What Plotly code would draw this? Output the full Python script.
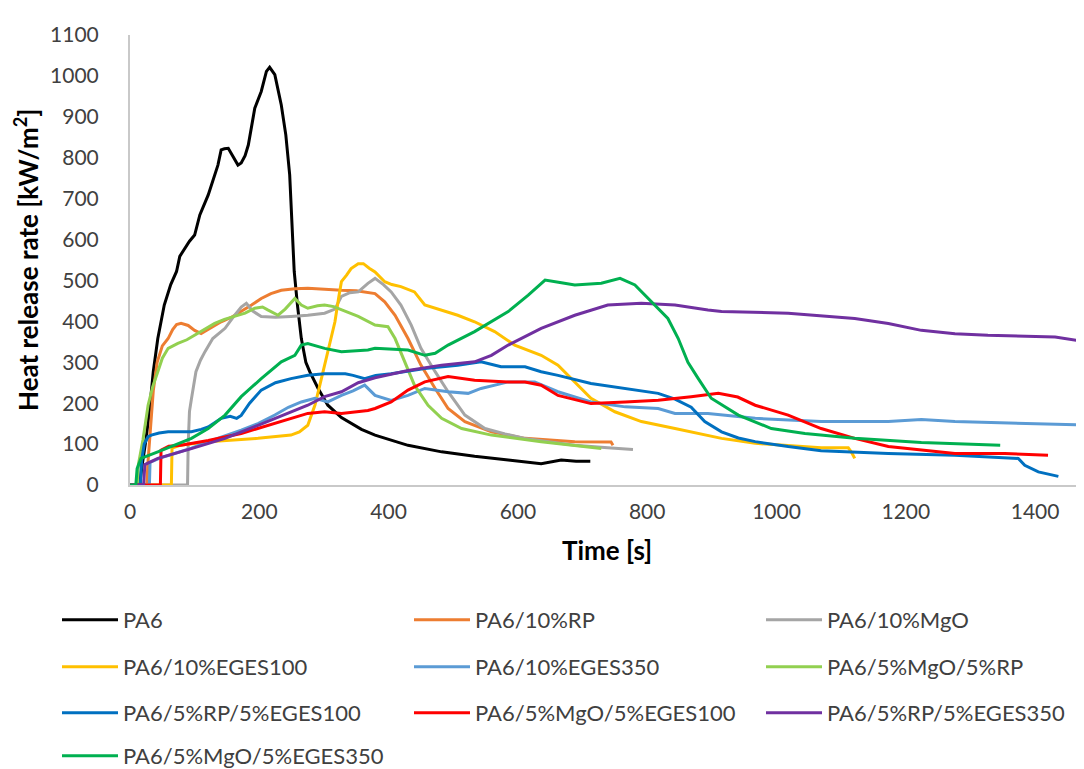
import plotly.graph_objects as go

# ---------------- data ----------------
names = ["PA6", "PA6/10%RP", "PA6/10%MgO", "PA6/10%EGES100", "PA6/10%EGES350",
         "PA6/5%MgO/5%RP", "PA6/5%RP/5%EGES100", "PA6/5%MgO/5%EGES100",
         "PA6/5%RP/5%EGES350", "PA6/5%MgO/5%EGES350"]
colors = ["#000000", "#ED7D31", "#A5A5A5", "#FFC000", "#5B9BD5",
          "#92D050", "#0070C0", "#FF0000", "#7030A0", "#00B050"]

t_pa6 = [0, 15, 18, 22, 25, 31, 36, 43, 53, 63, 72, 77, 92, 100, 108, 121, 136, 141, 146, 152, 160, 167, 172, 178,
         183, 193, 203, 211, 216, 224, 234, 241, 247, 250, 252, 254, 259, 265, 272, 278, 291, 306, 327, 337, 358, 379,
         430, 482, 533, 585, 636, 667, 690, 712]
q_pa6 = [0, 0, 40, 80, 114, 195, 277, 358, 440, 490, 522, 559, 596, 611, 660, 709, 782, 819, 822, 823, 800, 782, 787, 805,
         831, 921, 962, 1011, 1021, 1003, 929, 856, 758, 650, 559, 522, 440, 358, 300, 277, 236, 195, 165, 155, 136, 122,
         97, 81, 70, 61, 52, 61, 58, 58]

t_rp = [0, 26, 28, 32, 36, 42, 50, 59, 66, 72, 79, 90, 100, 110, 125, 141, 157, 172, 188, 203, 218, 234, 255, 275, 300,
        327, 350, 368, 379, 394, 410, 430, 450, 472, 492, 518, 559, 611, 650, 688, 744, 747]
q_rp = [0, 0, 60, 150, 230, 300, 340, 358, 380, 392, 395, 390, 378, 370, 385, 399, 410, 424, 440, 456, 468, 476, 480, 481, 478,
        476, 475, 470, 468, 448, 415, 358, 293, 236, 187, 155, 130, 114, 110, 106, 105, 97]

t_mgo = [0, 89, 90, 92, 95, 102, 109, 116, 128, 147, 162, 172, 180, 190, 203, 225, 249, 275, 301, 317, 327, 340, 353, 368,
         379, 392, 404, 419, 435, 450, 472, 492, 518, 549, 580, 611, 650, 688, 739, 778]
q_mgo = [0, 0, 100, 180, 210, 277, 305, 326, 358, 383, 415, 435, 444, 425, 412, 410, 412, 415, 420, 430, 461, 470, 472, 493,
         505, 490, 472, 440, 391, 334, 277, 228, 171, 138, 125, 114, 105, 97, 91, 87]

t_e100 = [0, 64, 65, 80, 121, 160, 198, 249, 262, 275, 286, 293, 301, 310, 317, 323, 327, 335, 342, 353, 361, 370, 379, 394,
          405, 419, 440, 456, 482, 507, 533, 564, 595, 636, 662, 688, 713, 750, 791, 843, 894, 915, 967, 1018, 1069, 1111,
          1116, 1121]
q_e100 = [0, 0, 90, 98, 106, 110, 114, 122, 130, 146, 195, 240, 293, 350, 399, 460, 497, 513, 529, 541, 541, 530, 521, 497,
          490, 485, 472, 440, 428, 415, 399, 375, 342, 317, 293, 252, 212, 179, 155, 138, 122, 114, 102, 97, 91, 91,
          80, 65]

t_e350 = [0, 30, 31, 45, 69, 95, 121, 147, 172, 198, 224, 245, 265, 286, 306, 327, 345, 363, 379, 404, 430, 456, 492, 523,
          543, 585, 626, 662, 713, 766, 817, 843, 894, 967, 1069, 1173, 1224, 1276, 1379, 1488]
q_e350 = [0, 0, 55, 65, 77, 90, 106, 120, 134, 150, 171, 190, 203, 212, 203, 219, 230, 244, 219, 207, 219, 236, 228, 224,
          236, 252, 252, 228, 203, 191, 187, 175, 175, 163, 155, 155, 160, 155, 150, 146]

t_mgorp = [0, 11, 13, 20, 28, 35, 43, 50, 59, 66, 74, 88, 100, 115, 131, 146, 162, 178, 193, 205, 213, 229, 240, 255, 265,
           275, 290, 301, 315, 327, 353, 379, 399, 410, 425, 440, 461, 482, 513, 559, 636, 690, 729]
q_mgorp = [0, 0, 50, 110, 195, 240, 277, 310, 334, 340, 346, 355, 366, 380, 395, 405, 412, 420, 432, 435, 428, 415, 430, 456,
           440, 432, 438, 440, 436, 428, 412, 391, 387, 358, 301, 244, 195, 163, 138, 122, 106, 96, 89]

t_rpe100 = [0, 16, 18, 22, 28, 33, 45, 59, 80, 95, 110, 121, 141, 155, 165, 172, 185, 203, 225, 249, 275, 301, 333, 345,
            363, 380, 404, 430, 456, 507, 543, 574, 611, 636, 662, 713, 766, 817, 843, 868, 889, 915, 941, 967, 1018,
            1069, 1173, 1276, 1374, 1384, 1405, 1436]
q_rpe100 = [0, 0, 60, 100, 118, 122, 127, 130, 130, 130, 136, 142, 163, 168, 163, 170, 200, 232, 250, 260, 268, 272, 272, 268,
            260, 268, 272, 278, 285, 293, 301, 289, 289, 277, 268, 248, 236, 224, 210, 190, 155, 130, 115, 106, 94,
            84, 77, 73, 65, 48, 32, 21]

t_mgoe100 = [0, 47, 48, 60, 79, 121, 172, 224, 275, 301, 327, 368, 379, 404, 430, 456, 492, 533, 585, 611, 636, 662, 713,
             766, 817, 868, 910, 940, 967, 1018, 1069, 1121, 1173, 1276, 1353, 1420]
q_mgoe100 = [0, 0, 85, 95, 97, 109, 126, 150, 175, 179, 175, 182, 187, 203, 232, 252, 265, 256, 252, 252, 244, 219, 199,
             203, 207, 216, 224, 215, 195, 171, 138, 114, 94, 77, 77, 73]

t_rpe350 = [0, 21, 23, 43, 95, 147, 198, 249, 275, 301, 327, 353, 379, 430, 482, 533, 559, 585, 636, 688, 739, 791, 843,
            894, 915, 1018, 1121, 1173, 1224, 1276, 1327, 1431, 1471, 1488]
q_rpe350 = [0, 0, 50, 65, 89, 114, 146, 179, 195, 216, 228, 250, 262, 280, 293, 301, 317, 342, 383, 415, 440, 444, 440,
            428, 424, 420, 407, 395, 378, 370, 366, 362, 352, 354]

t_mgoe350 = [0, 9, 11, 17, 43, 95, 121, 147, 172, 203, 234, 255, 265, 275, 301, 327, 368, 379, 430, 456, 472, 492, 533,
             559, 585, 616, 642, 665, 688, 729, 758, 781, 806, 832, 848, 863, 879, 899, 941, 992, 1044, 1121, 1224, 1346]
q_mgoe350 = [0, 0, 40, 65, 81, 114, 138, 171, 216, 260, 301, 317, 342, 346, 334, 326, 330, 334, 330, 317, 322, 342, 375,
             399, 424, 464, 501, 495, 489, 493, 505, 489, 448, 407, 358, 300, 260, 212, 171, 138, 126, 114, 104, 97]

times = [t_pa6, t_rp, t_mgo, t_e100, t_e350, t_mgorp, t_rpe100, t_mgoe100, t_rpe350, t_mgoe350]
hrrs = [q_pa6, q_rp, q_mgo, q_e100, q_e350, q_mgorp, q_rpe100, q_mgoe100, q_rpe350, q_mgoe350]

x_ticks = [0, 200, 400, 600, 800, 1000, 1200, 1400]
y_ticks = [0, 100, 200, 300, 400, 500, 600, 700, 800, 900, 1000, 1100]

# ---------------- figure ----------------
W, H = 1084, 769
ML, MR, MT, MB = 122, 0, 27, 292
PW, PH = W - ML - MR, H - MT - MB

def px2paper_x(px):
    return (px - ML) / PW

def px2paper_y(py):
    return (H - MB - py) / PH

FONT = "Lato"
TXT = "#404040"

legend_rows = [0, 0, 0, 1, 1, 1, 2, 2, 2, 3]
legend_ids = ["legend", "legend2", "legend3", "legend4"]

fig = go.Figure()
for i, (n, c, tt, qq) in enumerate(zip(names, colors, times, hrrs)):
    fig.add_trace(go.Scatter(x=tt, y=qq, mode="lines", name=n,
                             line=dict(color=c, width=3),
                             legend=legend_ids[legend_rows[i]]))

row_y = [612, 659, 705, 748]
leg_common = dict(orientation="h", xanchor="left", yanchor="middle",
                  entrywidth=281, entrywidthmode="pixels", itemwidth=56,
                  font=dict(family=FONT, size=22, color=TXT),
                  bgcolor="rgba(0,0,0,0)", borderwidth=0, traceorder="normal")
legend_layout = {}
for k, lid in enumerate(legend_ids):
    legend_layout[lid] = dict(leg_common, x=px2paper_x(49), y=px2paper_y(row_y[k]))

fig.update_layout(
    width=W, height=H,
    margin=dict(l=ML, r=MR, t=MT, b=MB, autoexpand=False),
    paper_bgcolor="white", plot_bgcolor="white",
    font=dict(family=FONT, color=TXT),
    showlegend=True,
    xaxis=dict(range=[0, 1488], tickvals=x_ticks, showgrid=False, zeroline=False,
               showline=True, linecolor="#C9C9C9", linewidth=2, ticks="",
               ticklabelstandoff=7, tickfont=dict(family=FONT, size=21, color=TXT)),
    yaxis=dict(range=[0, 1100], tickvals=y_ticks, showgrid=False, zeroline=False,
               showline=True, linecolor="#C9C9C9", linewidth=2, ticks="",
               ticklabelstandoff=25, tickfont=dict(family=FONT, size=21, color=TXT)),
    annotations=[
        dict(text="<b>Time [s]</b>", xref="paper", yref="paper",
             x=px2paper_x(599), y=px2paper_y(542), xanchor="center", yanchor="middle",
             showarrow=False, font=dict(family=FONT, size=26, color="#000000")),
        dict(text="<b>Heat release rate [kW/m<sup>2</sup>]</b>", xref="paper", yref="paper",
             x=px2paper_x(18), y=px2paper_y(252), xanchor="center", yanchor="middle",
             textangle=-90, showarrow=False, font=dict(family=FONT, size=26, color="#000000")),
    ],
    **legend_layout,
)

fig.write_html("out.html")
